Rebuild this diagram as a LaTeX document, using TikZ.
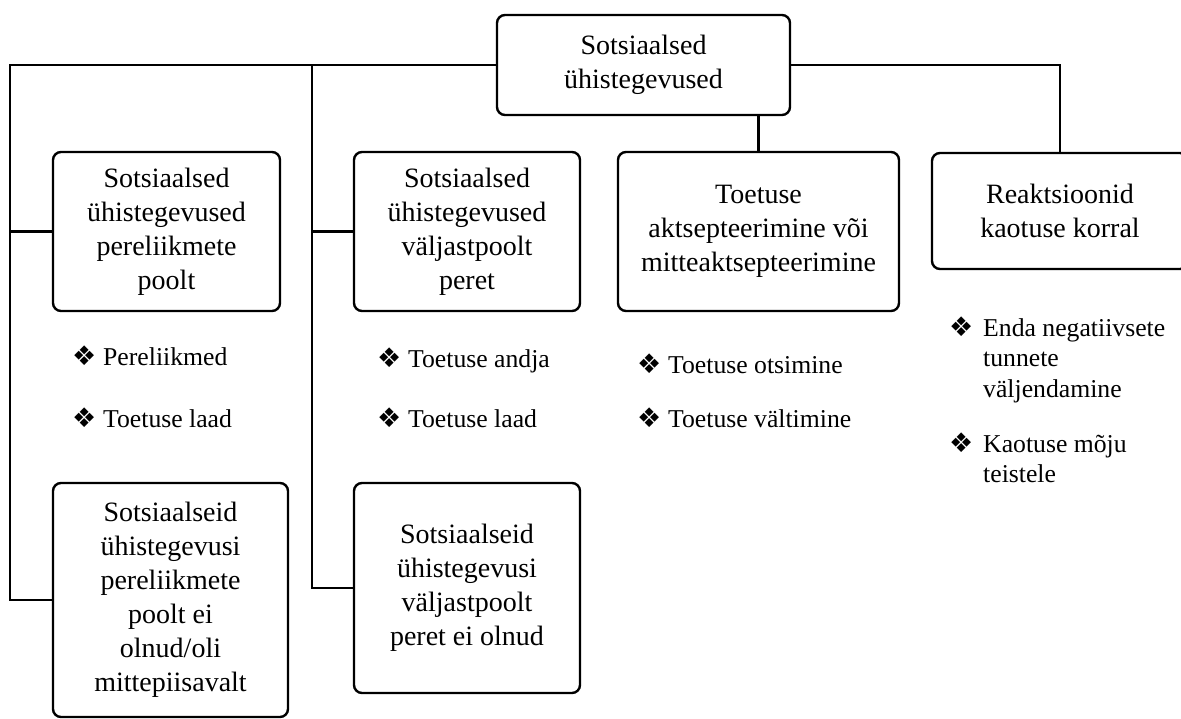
\documentclass[tikz,border=0pt]{standalone}
\usepackage{fontspec}
\setmainfont{Liberation Serif}
\newfontfamily\dingfont{DejaVu Sans}
\newcommand{\itemlines}[1]{\begin{tabular}[t]{@{}l@{}}#1\end{tabular}}
\tikzset{
  box/.style={draw, line width=2.4pt, rounded corners=8pt, align=center,
    inner sep=0pt, font=\fontsize{28}{34}\selectfont},
  link/.style={line width=2.2pt},
  bulletsign/.style={anchor=base west, inner sep=0pt,
    font=\dingfont\fontsize{27}{27}\selectfont},
  itemtext/.style={anchor=base west, inner sep=0pt,
    font=\fontsize{25.7}{30.5}\selectfont},
}
\begin{document}
\begin{tikzpicture}[x=1pt,y=-1pt]
\useasboundingbox (0,0) rectangle (1181,718);
\clip (0,0) rectangle (1181,718);

% boxes
\node[box, minimum width=293pt, minimum height=100pt] (top) at (643.5,65)
  {Sotsiaalsed\\ühistegevused};
\node[box, minimum width=227pt, minimum height=159pt] (b1) at (166.5,231.5)
  {Sotsiaalsed\\ühistegevused\\pereliikmete\\poolt};
\node[box, minimum width=226pt, minimum height=159pt] (b2) at (467,231.5)
  {Sotsiaalsed\\ühistegevused\\väljastpoolt\\peret};
\node[box, minimum width=281pt, minimum height=159pt] (b3) at (758.5,231.5)
  {Toetuse\\aktsepteerimine või\\mitteaktsepteerimine};
\node[box, minimum width=256pt, minimum height=116pt] (b4) at (1060,211)
  {Reaktsioonid\\kaotuse korral};
\node[box, minimum width=235pt, minimum height=234pt] (b5) at (170.5,600)
  {Sotsiaalseid\\ühistegevusi\\pereliikmete\\poolt ei\\olnud/oli\\mittepiisavalt};
\node[box, minimum width=226pt, minimum height=210pt] (b6) at (467,588)
  {Sotsiaalseid\\ühistegevusi\\väljastpoolt\\peret ei olnud};

% connectors
\coordinate (lbus) at (10,65);
\coordinate (mbus) at (312,65);
\draw[link] (top.west) -- (lbus) |- (b5.west);
\draw[link] (lbus |- b1.west) -- (b1.west);
\draw[link] (mbus) |- (b6.west);
\draw[link] (mbus |- b2.west) -- (b2.west);
\draw[link] (top.east) -| (b4.north);
\draw[link] (top.south -| b3.north) -- (b3.north);

% bullet lists
\node[bulletsign] (m11) at (72,365) {❖};
\node[itemtext] (t11) at (103,365) {Pereliikmed};
\node[bulletsign] (m12) at (72,427) {❖};
\node[itemtext] (t12) at (103,427) {Toetuse laad};

\node[bulletsign] (m21) at (377,367) {❖};
\node[itemtext] (t21) at (408,367) {Toetuse andja};
\node[bulletsign] (m22) at (377,427) {❖};
\node[itemtext] (t22) at (408,427) {Toetuse laad};

\node[bulletsign] (m31) at (637,373) {❖};
\node[itemtext] (t31) at (668,373) {Toetuse otsimine};
\node[bulletsign] (m32) at (637,427) {❖};
\node[itemtext] (t32) at (668,427) {Toetuse vältimine};

\node[bulletsign] (m41) at (949,336) {❖};
\node[itemtext] (t41) at (983,336) {\itemlines{Enda negatiivsete\\tunnete\\väljendamine}};
\node[bulletsign] (m42) at (949,452) {❖};
\node[itemtext] (t42) at (983,452) {\itemlines{Kaotuse mõju\\teistele}};
\end{tikzpicture}
\end{document}
